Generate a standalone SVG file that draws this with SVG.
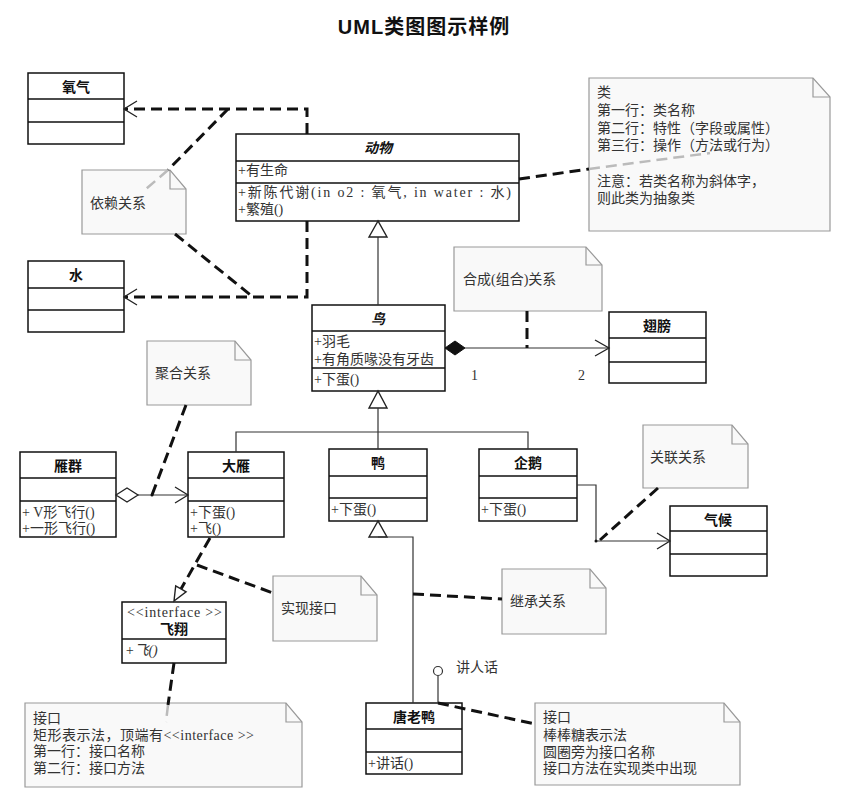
<svg xmlns="http://www.w3.org/2000/svg" width="851" height="805" viewBox="0 0 851 805">
<style>
.box{fill:#fff;stroke:#111;stroke-width:1.5}
.sep{stroke:#111;stroke-width:1.5}
.name{font-family:"Liberation Sans","Noto Sans CJK SC",sans-serif;font-size:14px;font-weight:bold;fill:#111;text-anchor:middle}
.it{font-style:italic}
.t{font-family:"Liberation Serif","Noto Sans CJK SC",serif;font-size:14px;fill:#333}
.note{fill:#f9f9f9;stroke:#999;stroke-width:1.2}
.fold{fill:none;stroke:#999;stroke-width:1.2}
.dash{fill:none;stroke:#111;stroke-width:3;stroke-dasharray:11 6}
.gdash{fill:none;stroke:#bbb;stroke-width:2.5;stroke-dasharray:11 6}
.line{fill:none;stroke:#333;stroke-width:1.2}
.open{fill:none;stroke:#222;stroke-width:1.3}
.tri{fill:#fff;stroke:#222;stroke-width:1.4}
</style>
<rect width="851" height="805" fill="#fff"/>
<text x="424" y="34" font-family="Liberation Sans,'Noto Sans CJK SC',sans-serif" font-size="20" font-weight="bold" letter-spacing="1" text-anchor="middle" fill="#111">UML类图图示样例</text>

<g id="oxygen">
  <rect class="box" x="28" y="73" width="96" height="71"/>
  <path class="sep" d="M28,99 H124 M28,122 H124"/>
  <text class="name" x="76" y="92">氧气</text>
</g>
<g id="water">
  <rect class="box" x="28" y="261" width="96" height="71"/>
  <path class="sep" d="M28,288 H124 M28,310 H124"/>
  <text class="name" x="76" y="280">水</text>
</g>
<g id="animal">
  <rect class="box" x="236" y="134" width="283" height="87"/>
  <path class="sep" d="M236,161 H519 M236,183 H519"/>
  <text class="name it" x="378" y="153">动物</text>
  <text class="t" x="238" y="175">+有生命</text>
  <text class="t" x="238" y="197" textLength="273" lengthAdjust="spacing">+新陈代谢(in o2 : 氧气, in water : 水)</text>
  <text class="t" x="238" y="214">+繁殖()</text>
</g>
<g id="bird">
  <rect class="box" x="312" y="305" width="133" height="86"/>
  <path class="sep" d="M312,331 H445 M312,368 H445"/>
  <text class="name it" x="378" y="324">鸟</text>
  <text class="t" x="314" y="346">+羽毛</text>
  <text class="t" x="314" y="364">+有角质喙没有牙齿</text>
  <text class="t" x="314" y="384">+下蛋()</text>
</g>
<g id="wing">
  <rect class="box" x="609" y="312" width="97" height="71"/>
  <path class="sep" d="M609,338 H706 M609,362 H706"/>
  <text class="name" x="657" y="331">翅膀</text>
</g>
<g id="geese">
  <rect class="box" x="20" y="452" width="96" height="85"/>
  <path class="sep" d="M20,478 H116 M20,501 H116"/>
  <text class="name" x="68" y="471">雁群</text>
  <text class="t" x="22" y="517">+  V形飞行()</text>
  <text class="t" x="22" y="533">+一形飞行()</text>
</g>
<g id="goose">
  <rect class="box" x="188" y="452" width="96" height="85"/>
  <path class="sep" d="M188,478 H284 M188,501 H284"/>
  <text class="name" x="236" y="471">大雁</text>
  <text class="t" x="190" y="517">+下蛋()</text>
  <text class="t" x="190" y="533">+飞()</text>
</g>
<g id="duck">
  <rect class="box" x="329" y="449" width="98" height="72"/>
  <path class="sep" d="M329,476 H427 M329,498 H427"/>
  <text class="name" x="378" y="468">鸭</text>
  <text class="t" x="331" y="514">+下蛋()</text>
</g>
<g id="penguin">
  <rect class="box" x="479" y="449" width="98" height="72"/>
  <path class="sep" d="M479,476 H577 M479,498 H577"/>
  <text class="name" x="528" y="468">企鹅</text>
  <text class="t" x="481" y="514">+下蛋()</text>
</g>
<g id="climate">
  <rect class="box" x="670" y="506" width="97" height="70"/>
  <path class="sep" d="M670,531 H767 M670,554 H767"/>
  <text class="name" x="718" y="525">气候</text>
</g>
<g id="fly">
  <rect class="box" x="122" y="602" width="104" height="61"/>
  <path class="sep" d="M122,639 H226"/>
  <text class="t" x="127" y="617" textLength="95" lengthAdjust="spacing">&lt;&lt;interface &gt;&gt;</text>
  <text class="name" x="174" y="634">飞翔</text>
  <text class="t" x="125" y="655" font-style="italic">+飞()</text>
</g>
<g id="donald">
  <rect class="box" x="366" y="703" width="96" height="71"/>
  <path class="sep" d="M366,729 H462 M366,752 H462"/>
  <text class="name" x="414" y="722">唐老鸭</text>
  <text class="t" x="368" y="768">+讲话()</text>
</g>

<g id="note-dependency">
  <path class="note" d="M82,170 H170 L186,189 V234 H82 Z"/>
  <path class="fold" d="M170,170 V189 H186"/>
  <text class="t" x="90" y="208">依赖关系</text>
</g>
<g id="note-class">
  <path class="note" d="M589,78 H813 L830,97 V231 H589 Z"/>
  <path class="fold" d="M813,78 V97 H830"/>
  <text class="t" x="597" y="97">类</text>
  <text class="t" x="597" y="115">第一行：类名称</text>
  <text class="t" x="597" y="133">第二行：特性（字段或属性）</text>
  <text class="t" x="597" y="150">第三行：操作（方法或行为）</text>
  <text class="t" x="597" y="186">注意：若类名称为斜体字，</text>
  <text class="t" x="597" y="203">则此类为抽象类</text>
</g>
<g id="note-composition">
  <path class="note" d="M454,247 H586 L602,265 V311 H454 Z"/>
  <path class="fold" d="M586,247 V265 H602"/>
  <text class="t" x="463" y="284">合成(组合)关系</text>
</g>
<g id="note-aggregation">
  <path class="note" d="M147,341 H235 L251,360 V405 H147 Z"/>
  <path class="fold" d="M235,341 V360 H251"/>
  <text class="t" x="155" y="378">聚合关系</text>
</g>
<g id="note-association">
  <path class="note" d="M643,425 H732 L748,444 V488 H643 Z"/>
  <path class="fold" d="M732,425 V444 H748"/>
  <text class="t" x="650" y="462">关联关系</text>
</g>
<g id="note-realization">
  <path class="note" d="M273,576 H361 L377,595 V641 H273 Z"/>
  <path class="fold" d="M361,576 V595 H377"/>
  <text class="t" x="281" y="613">实现接口</text>
</g>
<g id="note-inheritance">
  <path class="note" d="M502,569 H590 L606,588 V634 H502 Z"/>
  <path class="fold" d="M590,569 V588 H606"/>
  <text class="t" x="510" y="606">继承关系</text>
</g>
<g id="note-interface-rect">
  <path class="note" d="M25,703 H286 L302,722 V787 H25 Z"/>
  <path class="fold" d="M286,703 V722 H302"/>
  <text class="t" x="33" y="723">接口</text>
  <text class="t" x="33" y="740" textLength="221" lengthAdjust="spacing">矩形表示法，顶端有&lt;&lt;interface &gt;&gt;</text>
  <text class="t" x="33" y="756">第一行：接口名称</text>
  <text class="t" x="33" y="773">第二行：接口方法</text>
</g>
<g id="note-interface-lollipop">
  <path class="note" d="M535,703 H724 L740,722 V785 H535 Z"/>
  <path class="fold" d="M724,703 V722 H740"/>
  <text class="t" x="543" y="722">接口</text>
  <text class="t" x="543" y="740">棒棒糖表示法</text>
  <text class="t" x="543" y="757">圆圈旁为接口名称</text>
  <text class="t" x="543" y="773">接口方法在实现类中出现</text>
</g>

<g id="connectors">
  <path class="dash" d="M307,134 V109 H125"/>
  <polyline class="open" points="137,101 124,109 137,117"/>
  <path class="dash" d="M307,221 V297 H125"/>
  <polyline class="open" points="137,289 124,297 137,305"/>
  <path class="dash" d="M228,109 L168,170"/>
  <path class="gdash" d="M168,170 L146,189"/>
  <path class="dash" d="M175,234 L253,297"/>
  <path class="dash" d="M519,179 L589,169"/>
  <path class="gdash" d="M589,169 L710,153"/>
  <path class="line" d="M378,305 V237"/>
  <polygon class="tri" points="378,221 369,237 387,237"/>
  <path class="line" d="M465,348 H608"/>
  <polygon points="445,348 455,341 465,348 455,355" fill="#111" stroke="#111"/>
  <polyline class="open" points="595,340 609,348 595,356"/>
  <path class="dash" d="M527,311 V348"/>
  <polygon class="tri" points="378,391 369,408 387,408"/>
  <path class="line" d="M378,408 V449 M236,452 V432 H528 V449"/>
  <path class="line" d="M138,495 H187"/>
  <polygon points="116,495 127,488 138,495 127,502" fill="#fff" stroke="#222" stroke-width="1.3"/>
  <polyline class="open" points="175,487 188,495 175,503"/>
  <path class="dash" d="M186,405 L152,495"/>
  <circle cx="152" cy="495" r="1.5" fill="#111"/>
  <path class="line" d="M577,485 H596 V541 H669"/>
  <polyline class="open" points="657,533 670,541 657,549"/>
  <path class="dash" d="M658,488 L600,540"/>
  <circle cx="596" cy="541" r="1.5" fill="#111"/>
  <polygon class="tri" points="378,521 369,537 387,537"/>
  <path class="line" d="M378,537 H413 V703"/>
  <path class="dash" d="M413,594 L502,599"/>
  <path class="dash" d="M210,538 L181,589"/>
  <polygon class="tri" points="174,601 175.7,585.8 186.1,591.8"/>
  <path class="dash" d="M197,565 L273,593"/>
  <path class="dash" d="M174,663 L168,705"/>
  <path class="gdash" d="M168,705 L166,722"/>
  <circle cx="438" cy="671" r="4.5" fill="#fff" stroke="#333" stroke-width="1.2"/>
  <path class="line" d="M438,676 V703"/>
  <path class="dash" d="M438,703 L535,724"/>
  <text class="t" x="456" y="672">讲人话</text>
  <text class="t" x="471" y="380">1</text>
  <text class="t" x="578" y="380">2</text>
</g>
</svg>
